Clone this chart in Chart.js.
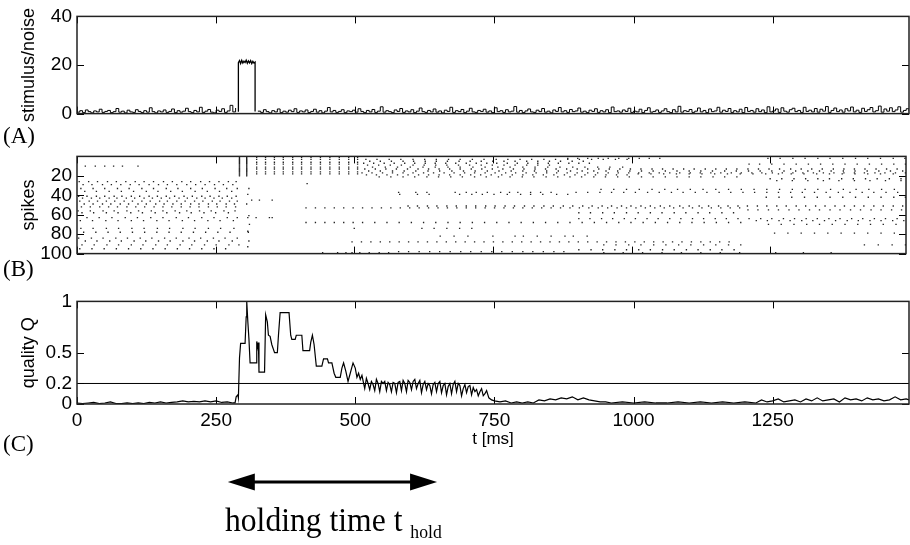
<!DOCTYPE html>
<html lang="en">
<head>
  <meta charset="UTF-8" />
  <title>Holding time</title>
  <script src="https://cdn.jsdelivr.net/npm/chart.js"></script>
  <style>
    body {
      margin: 0;
      width: 910px;
      height: 545px;
      overflow: hidden;
      background: #fff;
      position: relative;
    }

    .panel {
      position: absolute;
      left: 0;
      width: 910px;
    }

    .tag {
      position: absolute;
      font-family: "Liberation Serif", "Times New Roman", serif;
      font-size: 23px;
      line-height: 1;
      color: #000;
    }

    #hold {
      position: absolute;
      left: 225px;
      top: 503px;
      font-family: "Liberation Serif", "Times New Roman", serif;
      font-size: 34px;
      line-height: 1;
      white-space: nowrap;
      transform: scaleX(0.93);
      transform-origin: left top;
    }

    #hold sub {
      font-size: 19px;
      vertical-align: -7px;
    }
  </style>
</head>
<body>
  <div class="panel" style="top:0;height:130px"><canvas id="cA"></canvas></div>
  <div class="panel" style="top:140px;height:130px"><canvas id="cB"></canvas></div>
  <div class="panel" style="top:285px;height:260px"><canvas id="cC"></canvas></div>

  <div class="tag" style="left:3px;top:124px">(A)</div>
  <div class="tag" style="left:3px;top:257px">(B)</div>
  <div class="tag" style="left:3px;top:432px">(C)</div>
  <div id="hold">holding time t <sub>hold</sub></div>

  <script>
    // shared time axis [ms]
    const xMax = 1495;
    const xTickVals = [0, 250, 500, 750, 1000, 1250];

    // (A) stimulus / noise, noise sampled every 5 ms
    const noiseStep = 5;
    const noise = [
      0.6,1.2,0.4,1.5,0.8,0.3,1.1,0.7,1.8,0.5,0.9,1.3,0.4,0.8,2.1,0.6,1.0,0.3,1.4,0.7,
      0.5,1.6,0.9,0.4,1.2,0.6,2.4,0.8,0.3,1.1,0.7,1.5,0.5,0.9,1.9,0.4,1.2,0.6,1.0,2.2,
      0.8,0.4,1.3,0.7,2.6,0.5,1.0,1.7,0.6,0.3,1.4,0.9,2.0,0.5,1.1,3.4,0.7,2.3,null,null,
      null,null,null,null,null,1.0,0.5,1.6,0.8,0.3,1.2,0.7,1.9,0.4,1.0,0.6,1.4,0.8,2.0,0.5,
      1.1,0.7,1.5,0.4,0.9,1.8,0.6,1.2,0.3,1.0,2.5,0.7,1.3,0.5,0.9,1.6,0.4,1.1,0.8,1.4,
      0.6,2.0,0.9,0.4,1.3,0.7,1.7,0.5,1.0,2.8,0.6,1.2,0.8,0.4,1.5,0.9,2.1,0.5,1.1,0.7,
      1.6,0.4,1.0,2.3,0.8,0.5,1.3,0.7,1.9,0.6,1.1,0.3,1.4,0.9,2.6,0.5,1.2,0.8,1.7,0.4,
      1.0,2.2,0.7,0.5,1.3,0.9,1.8,0.6,1.1,0.4,2.4,0.8,1.2,0.5,1.6,0.7,1.0,2.9,0.6,1.3,
      0.4,1.1,1.9,0.7,0.5,1.4,0.8,2.1,0.6,1.0,0.3,1.5,0.9,2.5,0.7,1.2,0.5,1.7,0.8,1.1,
      2.3,0.6,1.0,0.4,1.4,0.9,2.0,0.5,1.2,0.7,1.6,0.4,2.7,0.8,1.1,0.6,1.5,0.9,2.2,0.5,
      1.0,0.7,1.8,0.4,1.3,2.4,0.6,0.9,1.5,0.5,1.1,2.0,0.8,0.4,1.6,0.7,3.0,0.6,1.2,0.9,
      1.7,0.5,1.0,2.3,0.7,1.3,0.4,1.9,0.8,1.1,2.6,0.6,1.4,0.9,2.1,0.5,1.2,0.7,1.8,0.4,
      2.5,0.9,1.3,0.6,2.0,0.8,1.5,0.4,2.8,0.7,1.1,1.9,0.5,2.4,1.0,0.6,1.6,2.2,0.8,1.3,
      0.5,2.6,0.9,1.4,0.7,2.1,0.6,1.8,1.0,2.9,0.5,1.3,2.3,0.8,1.5,0.6,2.0,1.1,2.7,0.7,
      1.4,0.5,2.2,0.9,1.6,2.5,0.7,1.2,3.1,0.6,1.9,1.0,2.4,0.8,1.5,2.8,0.6,1.3,2.0,0.9
    ];
    const stimT = [290, 290, 292, 294, 296, 298, 300, 302, 304, 306, 308, 310, 312, 314, 316, 318, 320, 320];
    const stimV = [0.8, 21.0, 21.8, 20.6, 21.9, 20.8, 21.6, 21.0, 22.0, 20.7, 21.7, 20.9, 21.8, 20.6, 21.5, 20.8, 21.2, 0.9];
    const aTicks = [0, 20, 40];

    // (B) spike raster: neuron index (0 at top) and spike times
    const syncTimes = [293, 306];
    const syncRows = [1, 2, 3, 4, 5, 6, 7, 8, 9, 10, 11, 12, 13, 14, 15, 16, 17, 18, 19, 20];
    const volleyTimes = [324, 340, 356, 372, 389, 405, 422, 439, 456, 473, 490, 506];
    const volleyRows = [1, 3, 6, 8, 11, 13, 16, 18];
    const rasterRows = [
      10, 26, 29, 33, 36, 41, 43, 46, 49, 52, 56, 58, 63, 66, 74, 78, 84, 87, 91, 95,
      2, 3, 5, 7, 8, 9, 11, 13, 15, 17, 18, 19, 21, 23, 25, 28,
      34, 37, 39, 42, 45, 51, 53, 55, 58, 61, 64, 66, 68, 70, 74, 77, 79, 82, 88, 91, 93, 96, 98, 99
    ];
    const rasterTimes = [
      [15, 33, 50, 66, 82, 110],
      [4, 21, 37, 55, 71, 88, 105, 121, 138, 156, 172, 189, 205, 223, 239, 256, 273, 287],
      [11, 27, 46, 62, 79, 96, 112, 130, 147, 163, 180, 198, 214, 231, 248, 264, 281],
      [7, 29, 50, 73, 94, 117, 138, 161, 182, 205, 226, 249, 270, 289, 310],
      [14, 35, 58, 80, 102, 125, 146, 169, 190, 213, 235, 257, 279],
      [3, 18, 35, 50, 67, 81, 98, 113, 130, 145, 161, 176, 193, 208, 225, 240, 256, 271, 287],
      [10, 26, 41, 58, 72, 89, 104, 121, 136, 152, 167, 184, 199, 216, 231, 247, 262, 279],
      [5, 22, 37, 53, 68, 85, 100, 117, 132, 149, 163, 180, 195, 212, 227, 244, 258, 275, 289],
      [13, 29, 46, 61, 78, 93, 110, 125, 142, 157, 173, 188, 205, 220, 237, 252, 269, 284, 306],
      [8, 24, 41, 57, 73, 90, 106, 122, 139, 155, 171, 188, 204, 220, 237, 253, 269, 286],
      [2, 24, 47, 67, 90, 111, 134, 155, 177, 198, 221, 242, 265, 285],
      [9, 30, 53, 74, 97, 118, 141, 162, 185, 206, 229, 250, 273],
      [18, 40, 63, 87, 109, 133, 155, 179, 201, 225, 247, 271, 289, 308, 323, 347, 352],
      [6, 28, 52, 74, 98, 120, 144, 166, 190, 212, 236, 258, 282],
      [7, 29, 53, 75, 99, 121, 145, 167, 191, 213, 237, 259, 283],
      [12, 34, 56, 78, 100, 122, 144, 166, 188, 210, 232, 254, 276, 309],
      [3, 26, 47, 70, 91, 114, 135, 158, 179, 202, 223, 246, 267, 289],
      [15, 36, 59, 80, 103, 124, 147, 168, 191, 212, 235, 256, 280, 310],
      [9, 31, 54, 75, 98, 119, 142, 163, 186, 207, 230, 251, 274, 292],
      [5, 27, 49, 71, 93, 115, 137, 159, 181, 203, 225, 247, 268],
      [885, 903, 921, 940, 958, 977, 995, 1014, 1032, 1051, 1246, 1268, 1291, 1313, 1336, 1358, 1381, 1404, 1426, 1449, 1472, 1493],
      [521, 541, 563, 584, 606, 627, 648, 670, 691, 713, 734, 756, 777, 799, 820, 842, 863, 885, 906, 928, 949, 971, 992],
      [528, 547, 567, 588, 607, 628, 648, 668, 689, 709, 729, 750, 770, 790, 811, 831, 852, 872, 893, 913],
      [517, 535, 554, 572, 591, 609, 628, 646, 665, 683, 702, 720, 739, 757, 776, 794, 813, 831, 850, 868, 887, 905, 924],
      [1212, 1231, 1253, 1275, 1297, 1319, 1341, 1363, 1385, 1407, 1429, 1451, 1473, 1494],
      [524, 544, 565, 585, 606, 626, 647, 667, 688, 708, 729, 749, 770, 790, 811, 831, 852],
      [533, 556, 578, 601, 624, 646, 669, 691, 714, 736, 759, 781, 804, 826, 849, 871, 894, 916, 939, 961, 984],
      [519, 538, 557, 576, 596, 615, 634, 653, 672, 691, 711, 730, 749, 768, 787, 806, 826, 845, 864, 883, 902, 921, 941, 960, 979, 998, 1017, 1037, 1056, 1075, 1094, 1113, 1133, 1152, 1171, 1190, 1210, 1229, 1248, 1267, 1287, 1306, 1325, 1344, 1364, 1383, 1402, 1421, 1441, 1460, 1479],
      [526, 547, 569, 590, 611, 633, 654, 676, 697, 718, 740, 761, 783, 804, 825, 847, 868, 890, 911, 932, 954, 975, 997, 1018, 1039, 1061, 1082, 1104, 1125, 1146, 1168, 1189, 1211, 1232, 1253, 1275, 1296, 1318, 1339, 1360, 1382, 1403, 1425, 1446, 1467, 1489],
      [514, 532, 551, 569, 588, 606, 625, 643, 662, 680, 699, 717, 736, 754, 773, 791, 810, 828, 847, 865, 884, 902, 921, 939, 958, 976, 995, 1013, 1032, 1050, 1069, 1087, 1106, 1124, 1143, 1161, 1180, 1198, 1217, 1235, 1254, 1272, 1291, 1309, 1328, 1346, 1365, 1383, 1402, 1420, 1439, 1457, 1476, 1494],
      [1012, 1035, 1058, 1081, 1104, 1127, 1150, 1173, 1196, 1219, 1242, 1265, 1288, 1311, 1334, 1357, 1380, 1403, 1426, 1449, 1472],
      [522, 540, 559, 578, 597, 616, 634, 653, 672, 691, 710, 728, 747, 766, 785, 804, 822, 841, 860, 879, 898, 916, 935, 954, 973, 992],
      [545, 566, 588, 609, 631, 652, 674, 695, 717, 738, 760, 781, 803, 824, 846, 867, 889, 910, 932, 953, 975, 996, 1018, 1039, 1061, 1082, 1104, 1125, 1147, 1168, 1190],
      [1250, 1271, 1293, 1314, 1336, 1357, 1379, 1400, 1422, 1443, 1465, 1486],
      [1262, 1290, 1318, 1346, 1374, 1402, 1430, 1458, 1486],
      [415],
      [945, 968, 991, 1014, 1037, 1060, 1083, 1106, 1129, 1152, 1175, 1198, 1221, 1244, 1267, 1290, 1313, 1336, 1359, 1382, 1405, 1428, 1451, 1474],
      [580, 611, 631, 682, 702, 720, 740, 764, 780, 795, 818, 836, 855, 900, 921, 943, 964, 986, 1007, 1029, 1050, 1072, 1093, 1115, 1136, 1158, 1179, 1201, 1222, 1244, 1265, 1287, 1308, 1330, 1351, 1373, 1394, 1416, 1437, 1459, 1480],
      [308, 582, 614, 635, 690, 712, 731, 752, 776, 800, 818, 840, 865, 885],
      [1243, 1266, 1289, 1312, 1335, 1358, 1381, 1404, 1427, 1450, 1473, 1494],
      [315, 329, 352],
      [597, 614, 632, 649, 667, 684, 702, 719, 737, 754, 772, 789, 807, 824, 842, 859, 877, 894, 912, 929, 947, 964, 982, 999, 1017, 1034, 1052, 1069, 1087, 1104, 1122, 1139, 1157, 1174, 1192, 1209, 1227, 1244, 1262, 1279, 1297, 1314, 1332, 1349, 1367, 1384, 1402, 1419, 1437, 1454, 1472, 1489],
      [413, 430, 447, 464, 481, 498, 515, 532, 549, 566, 583, 600, 617, 634, 651, 668, 685, 702, 719, 736, 753, 770, 787, 804, 821, 838, 855, 872, 889, 906, 923, 940, 957, 974, 991, 1008, 1025, 1042, 1059, 1076, 1093, 1110, 1127, 1144, 1161, 1178, 1195],
      [1210, 1228, 1247, 1265, 1284, 1302, 1321, 1339, 1358, 1376, 1395, 1413, 1432, 1450, 1469, 1487],
      [905, 926, 948, 969, 991, 1012, 1034, 1055, 1077, 1098, 1120, 1141, 1163, 1184],
      [310],
      [905, 925, 946, 966, 987, 1007, 1028, 1048, 1069, 1089, 1110, 1130, 1151, 1171, 1192, 1212, 1233, 1253, 1274, 1294, 1315, 1335, 1356, 1376, 1397, 1417, 1438, 1458, 1479],
      [1225, 1245, 1266, 1286, 1307, 1327, 1348, 1368, 1389, 1409, 1430, 1450, 1471, 1491],
      [413, 430, 447, 464, 481, 498, 515, 537, 559, 581, 603, 625, 647, 669, 691, 713, 735, 757, 779, 801, 823, 845, 867, 889, 911, 933, 955, 977, 999, 1021, 1043, 1065, 1087, 1109, 1131, 1153, 1175, 1197],
      [311, 1247, 1270, 1293, 1316, 1339, 1362, 1385, 1408, 1431, 1454, 1477],
      [500, 622, 644, 667, 690, 712],
      [308],
      [1258, 1282, 1306, 1330, 1354, 1378, 1402, 1426, 1450, 1474],
      [655, 680, 705, 750, 790, 805, 830, 855, 880, 895, 920],
      [496, 513, 530, 547, 564, 581, 598, 615, 632, 649, 666, 683, 700, 717, 734, 751, 768, 785, 802, 819, 836, 853, 870, 887, 904, 921, 938, 955, 972, 989, 1006, 1023, 1040, 1057, 1074, 1091, 1108, 1125, 1142, 1159, 1176],
      [950, 972, 995, 1017, 1040, 1062, 1085, 1107, 1130, 1152, 1175, 1197, 1420, 1445, 1470, 1494],
      [308],
      [905, 927, 948, 970, 991, 1013, 1034, 1056, 1077, 1099, 1120, 1142, 1163, 1185],
      [580, 598, 617, 636, 654, 673, 692, 710, 729, 748, 766, 785, 804, 822, 841, 860, 878],
      [443, 470, 485, 496, 510, 527, 545, 562, 950, 985, 1020, 1055, 1090, 1125, 1160, 1195, 1260, 1310, 1360]
    ];
    const bTicks = [20, 40, 60, 80, 100];

    // (C) quality Q
    const qT = [
      0, 10, 20, 30, 40, 50, 60, 70, 80, 90, 100, 110, 120, 130, 140, 150, 160, 170, 180, 190,
      200, 210, 220, 230, 240, 250, 260, 270, 280, 284, 286, 289, 290, 292, 294, 302, 304, 305, 307, 309,
      311, 322, 323, 325, 326, 327, 337, 339, 342, 344, 347, 350, 355, 360, 362, 365, 381, 384, 386, 392,
      394, 404, 406, 418, 420, 423, 426, 430, 440, 443, 450, 452, 458, 462, 465, 473, 476, 479, 483, 487,
      491, 496, 500, 503, 506, 509, 512, 515, 517, 520, 523, 526, 529, 532, 535, 538, 541, 544, 547, 550,
      553, 556, 559, 562, 565, 568, 571, 574, 577, 580, 583, 586, 589, 592, 595, 598, 601, 604, 607, 610,
      613, 616, 619, 622, 625, 628, 631, 634, 637, 640, 643, 646, 649, 652, 655, 658, 661, 664, 667, 670,
      673, 676, 679, 682, 685, 688, 691, 694, 697, 700, 703, 706, 709, 712, 715, 718, 721, 724, 727, 730,
      733, 736, 740, 745, 750, 760, 770, 780, 790, 800, 810, 820, 830, 840, 850, 860, 870, 880, 890, 900,
      910, 920, 930, 940, 950, 960, 980, 1000, 1020, 1040, 1060, 1080, 1100, 1120, 1140, 1160, 1180, 1200, 1220, 1230,
      1240, 1250, 1260, 1270, 1280, 1290, 1300, 1310, 1320, 1330, 1340, 1350, 1360, 1370, 1380, 1390, 1400, 1410, 1420, 1430,
      1440, 1450, 1460, 1470, 1480, 1490, 1495
    ];
    const qV = [
      .01, .005, .01, .015, .005, .01, .02, .005, .005, .01, .005, .01, .005, .015, .01, .02, .01, .015, .02, .03,
      .02, .025, .02, .03, .02, .03, .015, .02, .01, .01, .07, .09, .06, .45, .59, .59, .85, 1.0, .8, .63,
      .4, .4, .61, .55, .6, .31, .31, .87, .8, .67, .66, .58, .5, .5, .67, .89, .89, .67, .63, .63,
      .67, .67, .52, .52, .6, .67, .58, .37, .37, .44, .44, .4, .4, .3, .26, .26, .35, .4, .32, .22,
      .3, .4, .35, .26, .3, .24, .28, .2, .15, .25, .2, .14, .22, .19, .13, .24, .2, .12, .22, .2,
      .22, .13, .21, .19, .12, .21, .2, .11, .21, .22, .13, .23, .2, .12, .23, .21, .14, .22, .24, .15,
      .2, .23, .11, .19, .22, .14, .2, .18, .1, .19, .21, .12, .2, .22, .11, .18, .2, .09, .17, .2,
      .1, .19, .22, .12, .2, .18, .08, .15, .19, .11, .17, .18, .09, .16, .12, .14, .08, .12, .15, .08,
      .1, .13, .06, .04, .03, .02, .03, .01, .02, .01, .02, .01, .04, .03, .05, .04, .06, .05, .07, .04,
      .06, .04, .03, .02, .02, .01, .02, .01, .02, .01, .01, .02, .01, .02, .01, .02, .01, .02, .01, .04,
      .02, .03, .05, .02, .03, .04, .02, .05, .03, .06, .03, .04, .05, .02, .06, .04, .05, .03, .06, .04,
      .05, .03, .04, .07, .04, .05, .04
    ];
    const qThreshold = 0.2;
    const cTicks = [0, 0.2, 0.5, 1];

    // arrow under panel C (ms)
    const holdStart = 271;
    const holdEnd = 647;

    Chart.defaults.font.family = "'Liberation Sans', Arial, Helvetica, sans-serif";
    Chart.defaults.font.size = 18;
    Chart.defaults.color = '#000';
    Chart.defaults.animation = false;

    // box round the plot + inward tick marks, MATLAB style
    const framePlugin = {
      id: 'frame',
      afterDraw(chart, args, opts) {
        const { ctx, chartArea: a, scales } = chart;
        const len = 7;
        ctx.save();
        ctx.strokeStyle = '#000';
        ctx.lineWidth = 1;
        ctx.beginPath();
        xTickVals.forEach(v => {
          const x = Math.round(scales.x.getPixelForValue(v)) + 0.5;
          ctx.moveTo(x, a.top); ctx.lineTo(x, a.top + len);
          ctx.moveTo(x, a.bottom); ctx.lineTo(x, a.bottom - len);
        });
        opts.yTicks.forEach(v => {
          const y = Math.round(scales.y.getPixelForValue(v)) + 0.5;
          ctx.moveTo(a.left, y); ctx.lineTo(a.left + len, y);
          ctx.moveTo(a.right, y); ctx.lineTo(a.right - len, y);
        });
        ctx.stroke();
        ctx.lineWidth = 1.5;
        ctx.strokeStyle = '#222';
        ctx.strokeRect(a.left, a.top, a.right - a.left, a.bottom - a.top);
        ctx.restore();
      }
    };

    const arrowPlugin = {
      id: 'holdArrow',
      afterDraw(chart) {
        const { ctx, scales } = chart;
        const x1 = scales.x.getPixelForValue(holdStart);
        const x2 = scales.x.getPixelForValue(holdEnd);
        const y = 197;
        const head = 27, half = 8.5;
        ctx.save();
        ctx.fillStyle = '#000';
        ctx.strokeStyle = '#000';
        ctx.lineWidth = 3;
        ctx.beginPath();
        ctx.moveTo(x1 + head - 2, y); ctx.lineTo(x2 - head + 2, y);
        ctx.stroke();
        ctx.beginPath();
        ctx.moveTo(x1, y); ctx.lineTo(x1 + head, y - half); ctx.lineTo(x1 + head, y + half); ctx.closePath();
        ctx.moveTo(x2, y); ctx.lineTo(x2 - head, y - half); ctx.lineTo(x2 - head, y + half); ctx.closePath();
        ctx.fill();
        ctx.restore();
      }
    };

    const plainLabel = v => String(v);

    function yAxis(min, max, ticks, title, extra) {
      return Object.assign({
        min: min,
        max: max,
        afterBuildTicks: s => { s.ticks = ticks.map(v => ({ value: v })); },
        afterFit: s => { s.width = 77; },
        grid: { display: false, drawTicks: false },
        border: { display: false },
        ticks: { padding: 5, font: { size: 19 }, color: '#000', callback: plainLabel },
        title: { display: true, text: title, font: { size: 18 }, color: '#000', padding: { top: 18, bottom: 0 } }
      }, extra || {});
    }

    function hiddenX() {
      return { type: 'linear', min: 0, max: xMax, display: false };
    }

    function opts(xScale, yScale, yTicks, padding) {
      return {
        responsive: true,
        maintainAspectRatio: false,
        layout: { padding: padding },
        plugins: {
          legend: { display: false },
          tooltip: { enabled: false },
          frame: { yTicks: yTicks }
        },
        scales: { x: xScale, y: yScale }
      };
    }

    // (A)
    new Chart(document.getElementById('cA'), {
      type: 'line',
      data: {
        datasets: [
          {
            data: noise.map((v, i) => ({ x: i * noiseStep, y: v })),
            borderColor: '#000', borderWidth: 1, pointRadius: 0, spanGaps: false, stepped: true
          },
          {
            data: stimT.map((t, i) => ({ x: t, y: stimV[i] })),
            borderColor: '#000', borderWidth: 1.3, pointRadius: 0
          }
        ]
      },
      options: opts(hiddenX(), yAxis(0, 40, aTicks, 'stimulus/noise'), aTicks,
        { top: 13, bottom: 12, left: 0, right: 1 }),
      plugins: [framePlugin]
    });

    // (B)
    const spikes = [];
    syncTimes.forEach(t => syncRows.forEach(r => spikes.push({ x: t, y: r })));
    volleyTimes.forEach(t => volleyRows.forEach(r => spikes.push({ x: t, y: r })));
    rasterRows.forEach((r, i) => rasterTimes[i].forEach(t => spikes.push({ x: t, y: r })));

    new Chart(document.getElementById('cB'), {
      type: 'scatter',
      data: {
        datasets: [{
          data: spikes,
          pointStyle: 'rect',
          pointRadius: 0.95,
          pointBorderWidth: 0,
          pointBackgroundColor: '#222'
        }]
      },
      options: opts(hiddenX(), yAxis(0, 100, bTicks, 'spikes', { reverse: true }), bTicks,
        { top: 15, bottom: 11, left: 0, right: 1 }),
      plugins: [framePlugin]
    });

    // (C)
    new Chart(document.getElementById('cC'), {
      type: 'line',
      data: {
        datasets: [
          {
            data: qT.map((t, i) => ({ x: t, y: qV[i] })),
            borderColor: '#000', borderWidth: 1.2, pointRadius: 0
          },
          {
            data: [{ x: 0, y: qThreshold }, { x: xMax, y: qThreshold }],
            borderColor: '#000', borderWidth: 1, pointRadius: 0
          }
        ]
      },
      options: opts({
        type: 'linear',
        min: 0,
        max: xMax,
        afterBuildTicks: s => { s.ticks = xTickVals.map(v => ({ value: v })); },
        afterFit: s => { s.height = 48; },
        grid: { display: false, drawTicks: false },
        border: { display: false },
        ticks: { padding: 5, font: { size: 19 }, color: '#000', callback: plainLabel },
        title: { display: true, text: 't [ms]', font: { size: 17 }, color: '#000', padding: { top: 0, bottom: 2 } }
      }, yAxis(0, 1, cTicks, 'quality Q'), cTicks,
        { top: 14, bottom: 93, left: 0, right: 1 }),
      plugins: [framePlugin, arrowPlugin]
    });
  </script>
</body>
</html>
